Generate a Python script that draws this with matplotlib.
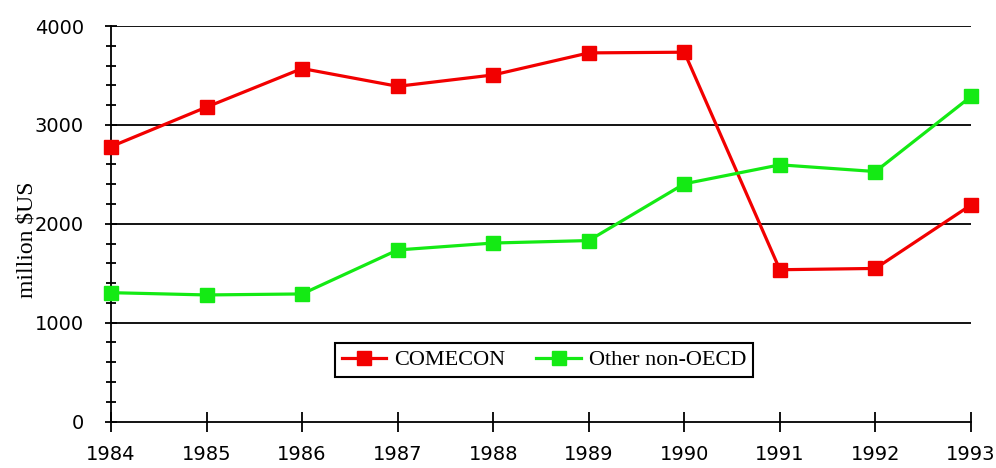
import matplotlib
matplotlib.use("Agg")
import matplotlib.pyplot as plt
from matplotlib.ticker import MultipleLocator

years = [1984, 1985, 1986, 1987, 1988, 1989, 1990, 1991, 1992, 1993]
comecon = [2780, 3180, 3570, 3390, 3505, 3728, 3735, 1535, 1548, 2190]
other_non_oecd = [1303, 1280, 1290, 1735, 1805, 1830, 2404, 2596, 2528, 3287]
y_ticks = [0, 1000, 2000, 3000, 4000]

fig = plt.figure(figsize=(9.96, 4.68), dpi=100)
ax = fig.add_axes([111 / 996, 1 - 421.5 / 468, 860 / 996, 395.5 / 468])

red = "#f20000"
green = "#14ea14"
ax.plot(years, comecon, color=red, lw=2.3, marker="s", ms=10,
        mec=red, mfc=red, label="COMECON", zorder=4, clip_on=False)
ax.plot(years, other_non_oecd, color=green, lw=2.3, marker="s", ms=10,
        mec=green, mfc=green, label="Other non-OECD", zorder=4, clip_on=False)

ax.set_xlim(years[0], years[-1])
ax.set_ylim(0, 4000)
ax.set_xticks(years)
ax.set_yticks(y_ticks)
ax.yaxis.set_minor_locator(MultipleLocator(200))

for y in y_ticks[1:]:
    ax.axhline(y, color="black", lw=1.3, zorder=1)

for side in ("top", "right"):
    ax.spines[side].set_visible(False)
for side in ("left", "bottom"):
    ax.spines[side].set_linewidth(1.3)

ax.tick_params(axis="x", which="major", direction="inout", length=14, width=1.3,
               labelsize=14, pad=10)
ax.tick_params(axis="y", which="major", direction="inout", length=9, width=1.3,
               labelsize=14, pad=15)
ax.tick_params(axis="y", which="minor", direction="inout", length=7, width=1.3)

fig.text(27 / 996, 1 - 240 / 468, "million $US", family="Liberation Serif",
         fontsize=17, rotation=90, ha="center", va="center")

leg = ax.legend(loc="center", bbox_to_anchor=(544 / 996, 1 - 360 / 468),
                bbox_transform=fig.transFigure, ncol=2, frameon=True,
                fancybox=False, edgecolor="black", framealpha=1,
                prop={"family": "Liberation Serif", "size": 16},
                handlelength=2.0, handletextpad=0.35, columnspacing=1.4,
                borderpad=0.3)
leg.get_frame().set_linewidth(1.5)

fig.savefig("out.png", dpi=100)
